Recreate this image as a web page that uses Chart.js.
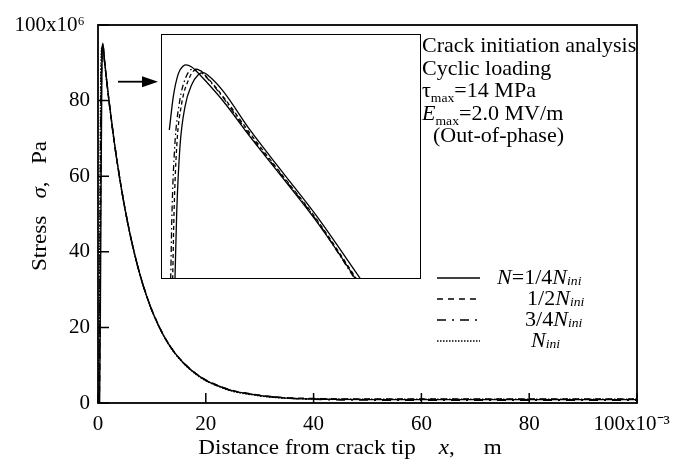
<!DOCTYPE html>
<html>
<head>
<meta charset="utf-8">
<script src="https://cdn.jsdelivr.net/npm/chart.js@4.4.1/dist/chart.umd.min.js"></script>
<style>
  body { margin: 0; background: #fff; }
  #wrap { position: relative; width: 673px; height: 464px; }
  #main { position: absolute; left: 0; top: 0; }
  #insetBox { position: absolute; left: 161px; top: 34px; width: 258px; height: 243px;
              border: 1.5px solid #000; background: #fff; }
  #inset { display: block; }
</style>
</head>
<body>
<div id="wrap">
  <canvas id="main" width="673" height="464"></canvas>
  <div id="insetBox"><canvas id="inset" width="258" height="243"></canvas></div>
</div>
<script>
const FONT = '"Liberation Serif", "Times New Roman", serif';
const SX = 1.05; // text in the scan is a touch wider than it is tall

// distance from crack tip (x10^-3 m)
const distance = [0.1, 0.3, 0.5, 0.7, 0.9, 1.2, 1.6, 2, 3, 4, 5, 6, 7, 8, 9, 10,
  12, 14, 16, 18, 20, 22, 25, 28, 31, 35, 40, 45, 50, 60, 70, 80, 90, 100];

// stress (x10^6 Pa) for N = 1/4, 1/2, 3/4 and 1 x N_ini
const stressQuarter = [0, 0, 40, 85, 95.2, 90.8, 85.5, 80.5, 69.3, 59.7, 51.4, 44.3, 38.2, 32.9, 28.4, 24.5,
  18.3, 13.7, 10.4, 7.9, 6.0, 4.7, 3.2, 2.4, 1.8, 1.3, 1.05, 0.95, 0.9, 0.9, 0.9, 0.9, 0.9, 0.9];
const stressHalf = [0, 5, 60, 90, 94.8, 90.6, 85.4, 80.4, 69.3, 59.8, 51.5, 44.4, 38.3, 33.0, 28.5, 24.6,
  18.4, 13.8, 10.5, 8.0, 6.1, 4.8, 3.3, 2.5, 1.9, 1.4, 1.2, 1.1, 1.1, 1.1, 1.1, 1.1, 1.1, 1.1];
const stressThreeQuarter = [0, 20, 75, 93, 94.6, 90.5, 85.3, 80.3, 69.2, 59.7, 51.4, 44.3, 38.2, 32.9, 28.4, 24.5,
  18.3, 13.7, 10.4, 7.9, 6.0, 4.7, 3.2, 2.4, 1.8, 1.3, 1.0, 0.8, 0.75, 0.7, 0.7, 0.7, 0.7, 0.7];
const stressFull = [0, 35, 85, 94, 94.4, 90.4, 85.2, 80.2, 69.1, 59.6, 51.3, 44.2, 38.1, 32.8, 28.3, 24.4,
  18.2, 13.6, 10.3, 7.8, 5.9, 4.6, 3.1, 2.3, 1.7, 1.25, 1.1, 1.0, 1.0, 1.0, 1.0, 1.0, 1.0, 1.0];

// inset: close-up of the peak
const insetXQuarter = [0.151, 0.171, 0.209, 0.267, 0.345, 0.422, 0.480, 0.558, 0.713, 1.023, 1.410, 1.799, 2.310];
const insetYQuarter = [73.9, 79.9, 85.9, 89.5, 91.5, 92.4, 92.6, 92.2, 90.9, 87.4, 83.5, 79.6, 73.9];
const insetXHalf = [0.124, 0.140, 0.171, 0.229, 0.306, 0.384, 0.434, 0.520, 0.713, 1.023, 1.410, 1.799, 2.264];
const insetYHalf = [73.9, 79.9, 85.9, 89.8, 91.9, 92.8, 92.8, 92.2, 90.4, 87.1, 83.2, 79.3, 73.9];
const insetXThreeQuarter = [0.101, 0.116, 0.148, 0.201, 0.279, 0.357, 0.403, 0.500, 0.713, 1.023, 1.410, 1.799, 2.244];
const insetYThreeQuarter = [73.9, 79.9, 85.9, 89.8, 92.2, 92.9, 92.9, 92.3, 90.3, 86.9, 83.1, 79.2, 73.9];
const insetXFull = [0.085, 0.131, 0.190, 0.248, 0.279, 0.345, 0.403, 0.500, 0.713, 1.023, 1.410, 1.799, 2.186, 2.25];
const insetYFull = [87.4, 90.4, 92.5, 93.2, 93.3, 93.1, 92.7, 91.9, 90.0, 86.8, 83.0, 79.1, 74.7, 73.9];

const seriesLabels = ['N=1/4Nini', '1/2Nini', '3/4Nini', 'Nini'];
const seriesDash = [[], [6, 5], [9, 6, 2, 6], [1.5, 1.5]];
const insetDash = [[], [4, 3], [6, 3, 1.5, 3], []];

const legendParts = [
  [{ t: 'N', it: 1 }, { t: '=1/4' }, { t: 'N', it: 1 }, { t: 'ini', it: 1, sub: 1 }],
  [{ t: '1/2' }, { t: 'N', it: 1 }, { t: 'ini', it: 1, sub: 1 }],
  [{ t: '3/4' }, { t: 'N', it: 1 }, { t: 'ini', it: 1, sub: 1 }],
  [{ t: 'N', it: 1 }, { t: 'ini', it: 1, sub: 1 }]
];
const noteLines = [
  [{ t: 'Crack initiation analysis' }],
  [{ t: 'Cyclic loading' }],
  [{ t: 'τ' }, { t: 'max', sub: 5 }, { t: '=14 MPa' }],
  [{ t: 'E', it: 1 }, { t: 'max', sub: 5 }, { t: '=2.0 MV/m' }],
  [{ t: '  (Out-of-phase)' }]
];
const xTitle = [{ t: 'Distance from crack tip    ' }, { t: 'x', it: 1 }, { t: ',     m' }];
const yTitle = [{ t: 'Stress   ' }, { t: 'σ', it: 1 }, { t: ',   Pa' }];

function fontOf(p, size) {
  const fs = p.sub ? Math.round(size * 0.62) : size;
  return (p.it ? 'italic ' : '') + fs + 'px ' + FONT;
}
function richWidth(ctx, parts, size) {
  let w = 0;
  for (const p of parts) { ctx.font = fontOf(p, size); w += ctx.measureText(p.t).width * SX; }
  return w;
}
function drawRich(ctx, x, y, parts, size) {
  for (const p of parts) {
    ctx.font = fontOf(p, size);
    ctx.save();
    ctx.translate(x, y + (p.sub || 0));
    ctx.scale(SX, 1);
    ctx.fillText(p.t, 0, 0);
    ctx.restore();
    x += ctx.measureText(p.t).width * SX;
  }
}

const mainSeries = [stressQuarter, stressHalf, stressThreeQuarter, stressFull];

const decorations = {
  id: 'decorations',
  afterDraw(chart) {
    const { ctx, chartArea: a, scales: { x, y } } = chart;
    ctx.save();
    ctx.strokeStyle = '#000';
    ctx.fillStyle = '#000';
    ctx.setLineDash([]);
    ctx.lineWidth = 1.8;
    ctx.strokeRect(a.left, a.top, a.right - a.left, a.bottom - a.top);

    // ticks pointing into the plot
    ctx.lineWidth = 1.5;
    ctx.beginPath();
    x.ticks.forEach(t => {
      const px = x.getPixelForValue(t.value);
      ctx.moveTo(px, a.bottom); ctx.lineTo(px, a.bottom - 10);
    });
    y.ticks.forEach(t => {
      const py = y.getPixelForValue(t.value);
      ctx.moveTo(a.left, py); ctx.lineTo(a.left + 11, py);
    });
    ctx.stroke();

    // arrow towards the close-up
    const ay = y.getPixelForValue(85);
    ctx.lineWidth = 1.8;
    ctx.beginPath();
    ctx.moveTo(a.left + 20, ay); ctx.lineTo(a.left + 46, ay);
    ctx.stroke();
    ctx.beginPath();
    ctx.moveTo(a.left + 44, ay - 5.5); ctx.lineTo(a.left + 60, ay); ctx.lineTo(a.left + 44, ay + 5.5);
    ctx.closePath();
    ctx.fill();

    ctx.textBaseline = 'alphabetic';
    // case notes
    noteLines.forEach((parts, i) => drawRich(ctx, 422, 52 + i * 22.5, parts, 21));

    // legend
    chart.data.datasets.forEach((ds, i) => {
      const ly = 278 + i * 21;
      ctx.lineWidth = 1.4;
      ctx.setLineDash(ds.borderDash);
      ctx.beginPath(); ctx.moveTo(437, ly); ctx.lineTo(480, ly); ctx.stroke();
      ctx.setLineDash([]);
      const tx = [497, 527, 525, 531][i];
      drawRich(ctx, tx, ly + 6, legendParts[i], 21);
    });

    // axis titles
    drawRich(ctx, 350 - richWidth(ctx, xTitle, 22) / 2, 454, xTitle, 22);
    ctx.translate(46, 206);
    ctx.rotate(-Math.PI / 2);
    drawRich(ctx, -richWidth(ctx, yTitle, 22) / 2, 0, yTitle, 22);
    ctx.restore();
  }
};

const tickFont = { family: FONT, size: 21 };

new Chart(document.getElementById('main'), {
  type: 'scatter',
  data: {
    datasets: seriesLabels.map((label, i) => ({
      label,
      data: distance.map((d, j) => ({ x: d, y: mainSeries[i][j] })),
      showLine: true,
      borderColor: '#000',
      borderWidth: 1.4,
      borderDash: seriesDash[i],
      pointRadius: 0,
      cubicInterpolationMode: 'monotone'
    }))
  },
  options: {
    responsive: false,
    animation: false,
    devicePixelRatio: 1,
    layout: { padding: { top: 25, right: 36, left: 0, bottom: 0 } },
    plugins: { legend: { display: false }, tooltip: { enabled: false } },
    scales: {
      x: {
        type: 'linear', min: 0, max: 100,
        afterFit: s => { s.height = 61; s.paddingLeft = 0; s.paddingRight = 0; },
        grid: { display: false, drawTicks: false },
        border: { display: false },
        ticks: { stepSize: 20, padding: 9, maxRotation: 0, color: '#000', font: tickFont,
                 // trailing spaces pull the last label back inside the page, as in the scan
                 callback: v => v === 100 ? '100x10⁻³  ' : v }
      },
      y: {
        min: 0, max: 100,
        afterFit: s => { s.width = 98; s.paddingTop = 0; s.paddingBottom = 0; },
        grid: { display: false, drawTicks: false },
        border: { display: false },
        ticks: { stepSize: 20, padding: 8, color: '#000', font: tickFont,
                 callback: v => v === 100 ? '100x10⁶ ' : v }
      }
    }
  },
  plugins: [decorations]
});

const insetX = [insetXQuarter, insetXHalf, insetXThreeQuarter, insetXFull];
const insetY = [insetYQuarter, insetYHalf, insetYThreeQuarter, insetYFull];

new Chart(document.getElementById('inset'), {
  type: 'scatter',
  data: {
    datasets: seriesLabels.map((label, i) => ({
      label,
      data: insetX[i].map((d, j) => ({ x: d, y: insetY[i][j] })),
      showLine: true,
      borderColor: '#000',
      borderWidth: 1.3,
      borderDash: insetDash[i],
      pointRadius: 0,
      cubicInterpolationMode: 'monotone'
    }))
  },
  options: {
    responsive: false,
    animation: false,
    devicePixelRatio: 1,
    layout: { padding: 0 },
    plugins: { legend: { display: false }, tooltip: { enabled: false } },
    scales: {
      x: { type: 'linear', display: false, min: 0, max: 3 },
      y: { display: false, min: 74, max: 96 }
    }
  }
});
</script>
</body>
</html>
